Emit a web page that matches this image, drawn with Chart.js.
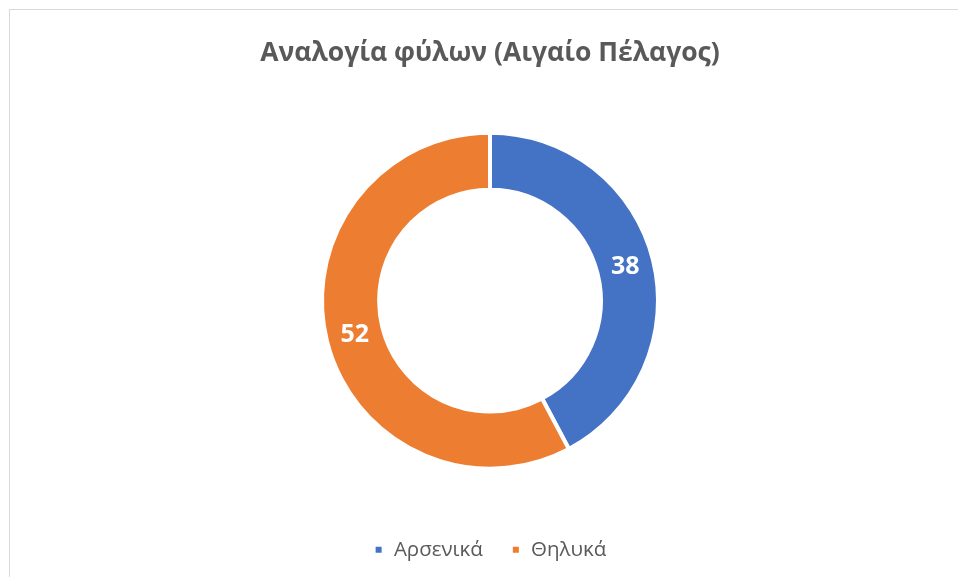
<!DOCTYPE html>
<html>
<head>
<meta charset="utf-8">
<script src="https://cdn.jsdelivr.net/npm/chart.js@4.4.1/dist/chart.umd.min.js"></script>
<style>
  html, body { margin: 0; padding: 0; background: #fff; overflow: hidden; }
  #frame {
    position: absolute; left: 9px; top: 9px;
    width: 960px; height: 580px;
    border: 1px solid #d9d9d9; box-sizing: border-box;
  }
  #genderChart { display: block; }
</style>
</head>
<body>
<div id="frame"><canvas id="genderChart" width="960" height="560"></canvas></div>
<script>
// Αναλογία φύλων
const labels = ['Αρσενικά', 'Θηλυκά'];
const counts = [38, 52];
const colors = ['#4472C4', '#ED7D31'];

// write each value in the middle of its slice
const sliceValues = {
  id: 'sliceValues',
  afterDatasetsDraw(chart) {
    const ctx = chart.ctx;
    const meta = chart.getDatasetMeta(0);
    ctx.save();
    ctx.font = 'bold 25px "Open Sans"';
    ctx.fillStyle = '#ffffff';
    ctx.textAlign = 'center';
    ctx.textBaseline = 'middle';
    meta.data.forEach((arc, i) => {
      const p = arc.tooltipPosition();
      ctx.fillText(String(counts[i]), p.x, p.y);
    });
    ctx.restore();
  }
};

const config = {
  type: 'doughnut',
  data: {
    labels: labels,
    datasets: [{
      data: counts,
      backgroundColor: colors,
      borderColor: '#ffffff',
      borderWidth: 4
    }]
  },
  options: {
    responsive: false,
    animation: false,
    radius: 168,
    cutout: '66%',
    plugins: {
      title: {
        display: true,
        text: 'Αναλογία φύλων (Αιγαίο Πέλαγος)',
        color: '#595959',
        font: { family: '"Open Sans"', size: 26.5, weight: 'bold' },
        padding: { top: 28, bottom: 20 }
      },
      legend: {
        position: 'bottom',
        labels: {
          color: '#595959',
          font: { family: '"Open Sans"', size: 20.5 },
          boxWidth: 10,
          boxHeight: 10,
          padding: 28
        }
      },
      tooltip: { enabled: false }
    }
  },
  plugins: [sliceValues]
};

new Chart(document.getElementById('genderChart'), config);
</script>
</body>
</html>
